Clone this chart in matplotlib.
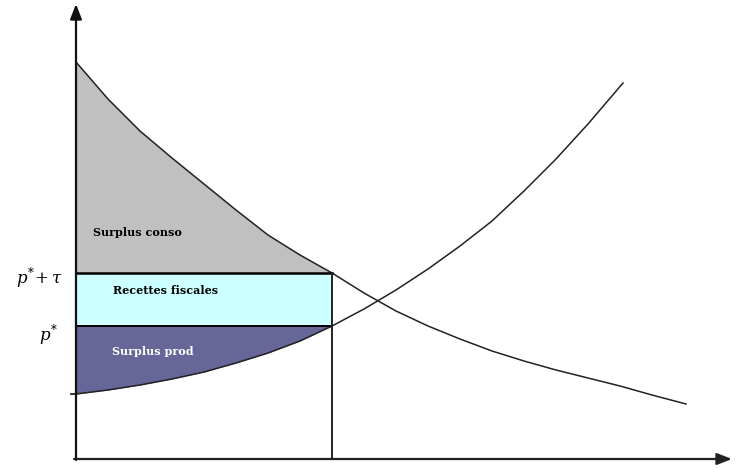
import matplotlib.pyplot as plt

# demand and supply curves (arbitrary units)
demand_q = [0, 32, 64, 96, 128, 160, 192, 224, 256,
            288, 320, 352, 384, 416, 448, 480, 512, 544, 576, 610]
demand_p = [397, 360, 328, 301, 275, 249, 224, 204, 186,
            166, 148, 133, 120, 108, 98, 89, 81, 73, 64, 55]
supply_q = [0, 32, 64, 96, 128, 160, 192, 224, 256,
            288, 320, 352, 384, 416, 448, 480, 512, 547]
supply_p = [65, 69, 74, 80, 87, 96, 106, 118, 133,
            150, 169, 190, 213, 238, 268, 300, 335, 376]

q_tax = 256
p_star = 133
p_tax = 186

labels = ["Surplus conso", "Recettes fiscales", "Surplus prod"]

fig = plt.figure(figsize=(7.38, 4.69), dpi=100)
ax = fig.add_axes([0, 0, 1, 1])
ax.set_xlim(-76, 662)
ax.set_ylim(-10, 459)
ax.axis("off")

# consumer surplus: between demand and p*+tau
dq = [q for q in demand_q if q <= q_tax]
dp = demand_p[:len(dq)]
ax.fill_between(dq, dp, p_tax, color="#c0c0c0", lw=0)

# tax revenue
ax.fill_between([0, q_tax], p_star, p_tax, color="#ccffff", lw=0)

# producer surplus
sq = [q for q in supply_q if q <= q_tax]
sp = supply_p[:len(sq)]
ax.fill_between(sq, sp, p_star, color="#666699", lw=0)

ax.plot(demand_q, demand_p, color="#222222", lw=1.1)
ax.plot(supply_q, supply_p, color="#222222", lw=1.1)

ax.plot([0, q_tax], [p_tax, p_tax], color="black", lw=1.8)
ax.plot([0, q_tax], [p_star, p_star], color="black", lw=1.4)
ax.plot([q_tax, q_tax], [0, p_tax], color="#222222", lw=1.4)

# axes with arrows
ax.annotate("", xy=(656, 0), xytext=(-2, 0),
            arrowprops=dict(arrowstyle="-|>,head_length=0.9,head_width=0.35",
                            color="#222222", lw=1.6, shrinkA=0, shrinkB=0))
ax.annotate("", xy=(0, 455), xytext=(0, -1),
            arrowprops=dict(arrowstyle="-|>,head_length=0.9,head_width=0.35",
                            color="#111111", lw=1.6, shrinkA=0, shrinkB=0))
ax.plot([-5, 0], [65, 65], color="#111111", lw=1.2)

plt.rcParams["mathtext.fontset"] = "dejavuserif"
ax.text(-13, 181, r"$p^{*}\!+\tau$", ha="right", va="center", fontsize=12)
ax.text(-18, 124, r"$p^{*}$", ha="right", va="center", fontsize=12)

ax.text(17, 227, labels[0], fontsize=8, family="DejaVu Serif",
        weight="bold", va="center", color="black")
ax.text(37, 169, labels[1], fontsize=8, family="DejaVu Serif",
        weight="bold", va="center", color="black")
ax.text(36, 108, labels[2], fontsize=8, family="DejaVu Serif",
        weight="bold", va="center", color="white")

fig.savefig("out.png", dpi=100)
